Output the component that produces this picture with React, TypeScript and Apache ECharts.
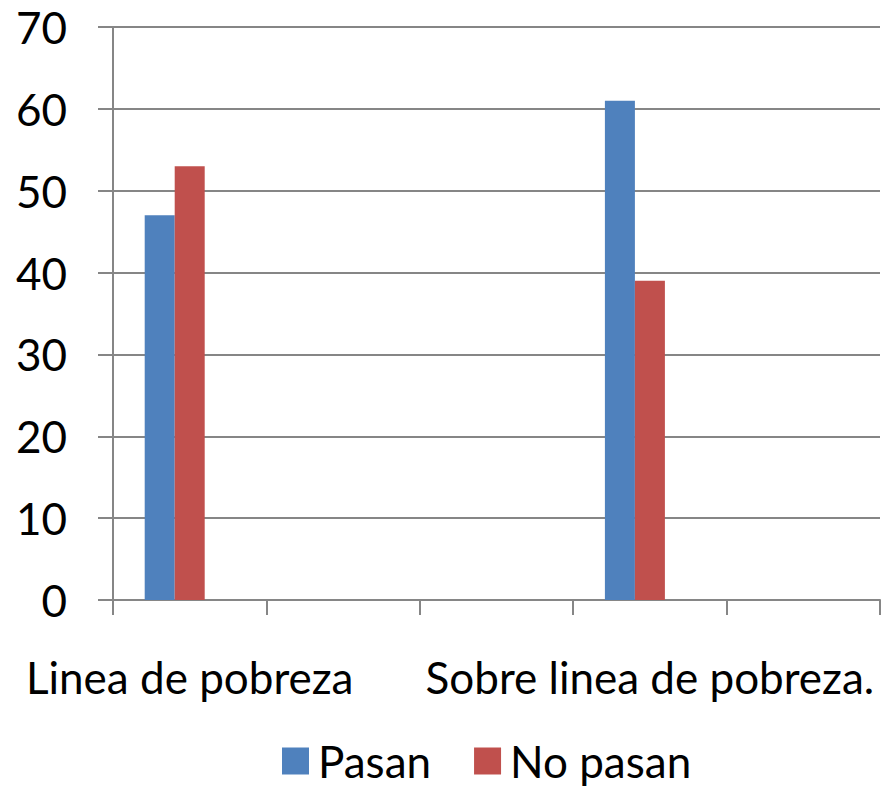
import React, { useEffect, useRef } from "react";
import * as echarts from "echarts";

const categories = ["Linea de pobreza", "", "", "Sobre linea de pobreza.", ""];
const pasan = [47, null, null, 61, null];
const noPasan = [53, null, null, 39, null];
const spacer = [null, null, null, null, null];
const yMin = 0;
const yMax = 70;
const yInterval = 10;

export default function App() {
  const ref = useRef<HTMLDivElement>(null);
  useEffect(() => {
    if (!ref.current) return;
    const chart = echarts.init(ref.current, undefined, { renderer: "svg" });
    const font = "Lato, 'Open Sans', sans-serif";
    chart.setOption({
      animation: false,
      textStyle: { fontFamily: font },
      grid: { left: 113, right: 3, top: 27, bottom: 189, containLabel: false },
      legend: {
        data: ["Pasan", "No pasan"],
        top: 734,
        left: 277,
        itemWidth: 27,
        itemHeight: 27,
        itemGap: 43,
        icon: "rect",
        textStyle: { fontSize: 44, color: "#000", fontFamily: font, padding: [0, 0, 0, 4] },
      },
      xAxis: {
        type: "category",
        data: categories,
        axisLine: { lineStyle: { color: "#868686", width: 2 } },
        axisTick: { show: true, length: 15, alignWithLabel: false, lineStyle: { color: "#868686", width: 2 } },
        axisLabel: { fontSize: 44, color: "#000", margin: 55, interval: 0, fontFamily: font },
        splitLine: { show: false },
      },
      yAxis: {
        type: "value",
        min: yMin,
        max: yMax,
        interval: yInterval,
        axisLine: { show: true, lineStyle: { color: "#868686", width: 2 } },
        axisTick: { show: true, length: 15, lineStyle: { color: "#868686", width: 2 } },
        axisLabel: { fontSize: 44, color: "#000", margin: 46, fontFamily: font },
        splitLine: { show: true, lineStyle: { color: "#868686", width: 2 } },
      },
      series: [
        { name: "Pasan", type: "bar", data: pasan, barWidth: 30, barGap: "0%", itemStyle: { color: "#4F81BD" } },
        { name: "No pasan", type: "bar", data: noPasan, barWidth: 30, barGap: "0%", itemStyle: { color: "#C0504D" } },
        { name: "spacer", type: "bar", data: spacer, barWidth: 30, barGap: "0%", itemStyle: { color: "transparent" } },
      ],
    });
    return () => chart.dispose();
  }, []);
  return <div ref={ref} style={{ position: "absolute", left: 0, top: 0, width: 883, height: 789 }} />;
}
